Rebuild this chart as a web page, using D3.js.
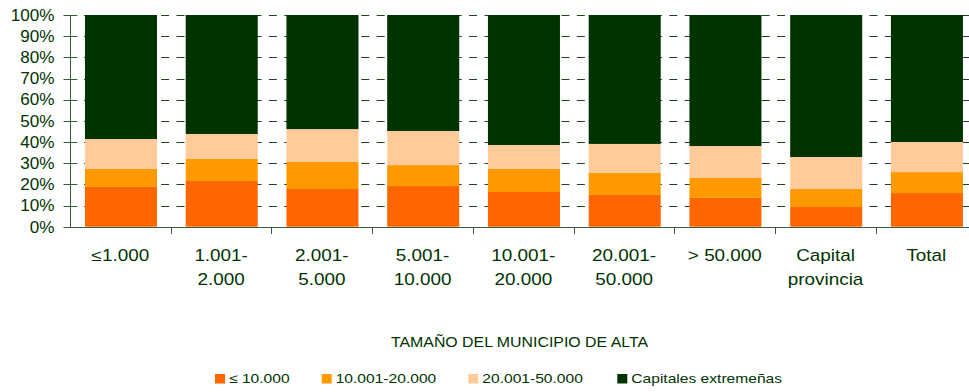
<!DOCTYPE html>
<html>
<head>
<meta charset="utf-8">
<script src="https://cdn.jsdelivr.net/npm/d3@7"></script>
<style>
html,body{margin:0;padding:0;background:#fff;}
svg{display:block;}
text{font-family:"Liberation Sans",Arial,sans-serif;fill:#003300;}
</style>
</head>
<body>
<svg id="chart" width="969" height="392"></svg>
<script>
const categories = ["≤1.000", "1.001-\n2.000", "2.001-\n5.000", "5.001-\n10.000", "10.001-\n20.000", "20.001-\n50.000", "> 50.000", "Capital\nprovincia", "Total"];
const seriesNames = ["≤ 10.000", "10.001-20.000", "20.001-50.000", "Capitales extremeñas"];
const s1 = [18.8, 21.6, 17.8, 19.2, 16.4, 15.0, 13.6, 9.3, 15.9];
const s2 = [8.5, 10.4, 12.8, 9.9, 10.9, 10.4, 9.4, 8.5, 9.9];
const s3 = [14.1, 11.8, 15.5, 16.1, 11.3, 13.7, 15.1, 15.1, 14.2];
const s4 = [58.6, 56.2, 53.9, 54.8, 61.4, 60.9, 61.9, 67.1, 60.0];
const colors = ["#FF6600", "#FF9900", "#FFCC99", "#003300"];
const yTicks = [0, 10, 20, 30, 40, 50, 60, 70, 80, 90, 100];
const xTitle = "TAMAÑO DEL MUNICIPIO DE ALTA";

(function () {
const svg = d3.select("#chart");
const pL = 70, pR = 976.7, pT = 15, pB = 226.7;

const x = d3.scaleBand().domain(categories).range([pL, pR]).padding(0);
const y = d3.scaleLinear().domain([0, 100]).range([pB, pT]);

const rows = categories.map((c, i) => ({cat: c, a: s1[i], b: s2[i], c2: s3[i], d: s4[i]}));
const keys = ["a", "b", "c2", "d"];
const stack = d3.stack().keys(keys)(rows);

const axisColor = "#3a5c3a";

// gridlines
svg.append("g").selectAll("line").data(yTicks.filter(t => t > 0)).join("line")
  .attr("x1", pL).attr("x2", pR)
  .attr("y1", d => Math.round(y(d)) + 0.5).attr("y2", d => Math.round(y(d)) + 0.5)
  .attr("stroke", "#1f421f").attr("stroke-width", 1)
  .attr("stroke-dasharray", "8,7.4").attr("stroke-dashoffset", 1.3);

// bars
const barW = x.bandwidth() * 0.715;
svg.append("g").selectAll("g").data(stack).join("g")
  .attr("fill", (d, i) => colors[i])
  .selectAll("rect").data(d => d).join("rect")
  .attr("x", d => x(d.data.cat) + (x.bandwidth() - barW) / 2 + 0.6)
  .attr("width", barW)
  .attr("y", d => y(d[1]))
  .attr("height", d => y(d[0]) - y(d[1]));

// y axis
const yAxis = svg.append("g");
yAxis.append("line").attr("x1", pL + 0.5).attr("x2", pL + 0.5).attr("y1", pT).attr("y2", Math.round(pB) + 0.5)
  .attr("stroke", axisColor);
yAxis.selectAll("line.tick").data(yTicks).join("line").attr("class", "tick")
  .attr("x1", pL - 6.5).attr("x2", pL + 7.5)
  .attr("y1", d => Math.round(y(d)) + 0.5).attr("y2", d => Math.round(y(d)) + 0.5)
  .attr("stroke", axisColor);
yAxis.selectAll("g.lbl").data(yTicks).join("g").attr("class", "lbl")
  .attr("transform", d => `translate(54.5,${y(d) + 5.8}) scale(1.07,1)`)
  .append("text").attr("text-anchor", "end").style("font-size", "16px")
  .text(d => d + "%");

// x axis
const xAxis = svg.append("g");
xAxis.append("line").attr("x1", pL).attr("x2", pR).attr("y1", Math.round(pB) + 0.5).attr("y2", Math.round(pB) + 0.5)
  .attr("stroke", axisColor);
xAxis.selectAll("line.tick").data(categories.slice(1).concat(["end"])).join("line").attr("class", "tick")
  .attr("x1", (d, i) => Math.round(pL + x.step() * (i + 1)) + 0.5)
  .attr("x2", (d, i) => Math.round(pL + x.step() * (i + 1)) + 0.5)
  .attr("y1", Math.round(pB) + 0.5).attr("y2", Math.round(pB) + 7)
  .attr("stroke", axisColor);
const catG = xAxis.selectAll("g.cat").data(categories).join("g").attr("class", "cat")
  .attr("transform", d => `translate(${x(d) + x.bandwidth() / 2},0)`);
catG.each(function(d) {
  const lines = d.split("\n");
  const g = d3.select(this);
  lines.forEach((ln, k) => {
    g.append("g").attr("transform", `translate(0,${261 + k * 24}) scale(1.18,1)`)
      .append("text").attr("text-anchor", "middle").style("font-size", "16px").text(ln);
  });
});

// x title
svg.append("g").attr("transform", "translate(519.5,346.7) scale(1.135,1)")
  .append("text").attr("text-anchor", "middle").style("font-size", "14px").text(xTitle);

// legend
const legX = [215, 321.7, 468.3, 617.3];
const leg = svg.append("g").selectAll("g").data(seriesNames).join("g")
  .attr("transform", (d, i) => `translate(${legX[i]},0)`);
leg.append("rect").attr("x", 0).attr("y", 374).attr("width", 10).attr("height", 9.5)
  .attr("fill", (d, i) => colors[i]);
leg.append("g").attr("transform", "translate(14,383) scale(1.2,1)")
  .append("text").style("font-size", "13px").text(d => d);
})();
</script>
</body>
</html>
